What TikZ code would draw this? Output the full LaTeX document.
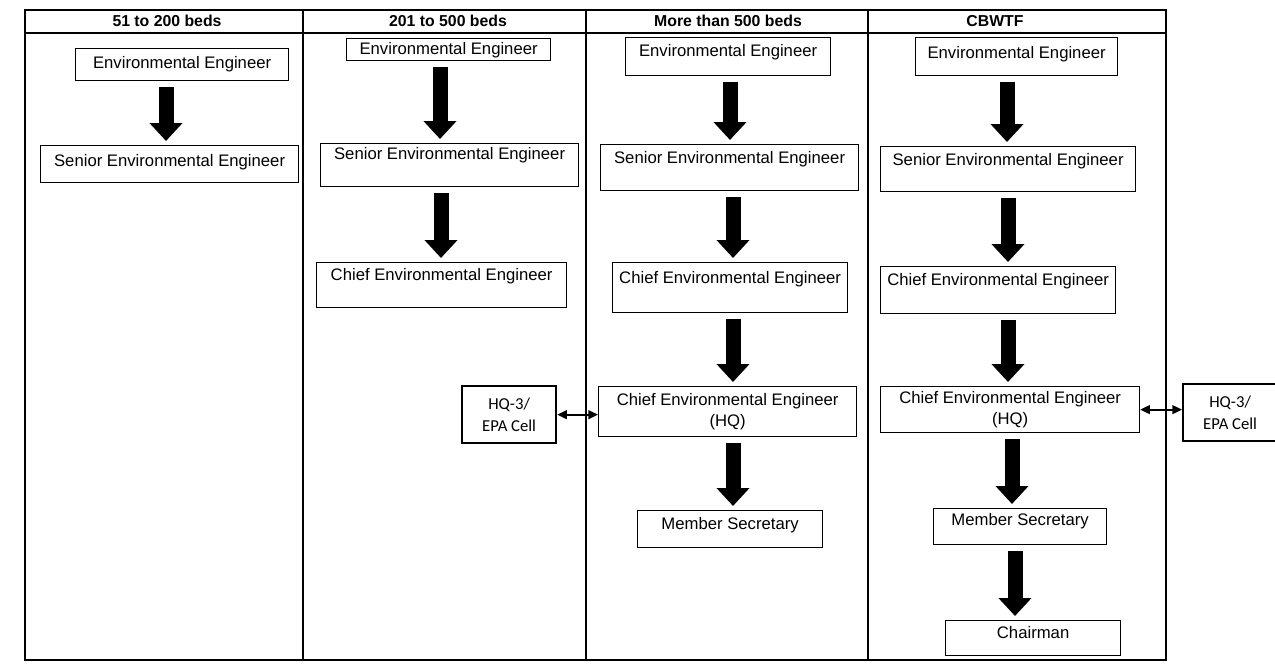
\documentclass[tikz,border=0pt]{standalone}
\usepackage{fontspec}
\setmainfont{Liberation Sans}
\newfontfamily\cellfont{Carlito}
\usetikzlibrary{arrows.meta}
\newcommand{\pxu}{0.02cm}

\begin{document}
\begin{tikzpicture}[
    x=\pxu, y=-\pxu,
    font=\fontsize{9.5}{11.5}\selectfont,
    head/.style={font=\fontsize{9}{11}\selectfont\bfseries},
    post/.style n args={3}{draw, line width=0.7pt, inner sep=0pt, anchor=north west, minimum width=#1*\pxu, text height=#2*\pxu, text depth=#3*\pxu},
    hqpost/.style 2 args={draw, line width=0.7pt, inner sep=0pt, anchor=north west, align=center, minimum width=#1*\pxu, minimum height=#2*\pxu},
    cell/.style={draw, line width=1.3pt, inner sep=0pt, anchor=north west, align=center, minimum width=1.88cm, minimum height=1.14cm, font=\cellfont\fontsize{9.5}{12.5}\selectfont},
    down/.style={line width=0.3cm, -{Triangle[width=0.64cm, length=0.36cm]}, shorten <=0.12cm, shorten >=0.08cm},
    link/.style={line width=1.1pt, {Triangle[width=5pt, length=5.5pt]}-{Triangle[width=5pt, length=5.5pt]}}
]
\useasboundingbox (0,0) rectangle (1275,664);

% Table frame
\draw[line width=0.8pt] (25,10) rectangle (1166,660);
\draw[line width=0.8pt] (25,33) -- (1166,33);
\foreach \cx in {303,586,868}
    \draw[line width=0.8pt] (\cx,10) -- (\cx,660);

% Headers
\node[head] (hd1) at (167,21) {51 to 200 beds};
\node[head] (hd2) at (448,21) {201 to 500 beds};
\node[head] (hd3) at (728,21) {More than 500 beds};
\node[head] (hd4) at (995,21) {CBWTF};

% 51 to 200 beds
\node[post={213}{20}{12}] (ee1) at (75,48) {Environmental Engineer};
\node[post={258}{21}{16}] (see1) at (40,145) {Senior Environmental Engineer};

\draw[down] (ee1.south -| 166,0) -- (see1.north -| 166,0);

% 201 to 500 beds
\node[post={204}{16}{6}] (ee2) at (346,38) {Environmental Engineer};
\node[post={258}{16}{27}] (see2) at (320,143) {Senior Environmental Engineer};
\node[post={250}{18}{27}] (cee2) at (316,262) {Chief Environmental Engineer};

\draw[down] (ee2.south -| 440,0) -- (see2.north -| 440,0);
\draw[down] (see2.south -| 441,0) -- (cee2.north -| 441,0);

% More than 500 beds
\node[post={205}{19}{19}] (ee3) at (625,37) {Environmental Engineer};
\node[post={258}{19}{27}] (see3) at (600,144) {Senior Environmental Engineer};
\node[post={235}{21}{29}] (cee3) at (612,262) {Chief Environmental Engineer};
\node[hqpost={258}{50}] (hq3) at (598,386) {Chief Environmental Engineer\\(HQ)};
\node[post={185}{19}{18}] (ms3) at (637,510) {Member Secretary};
\node[cell] (epa3) at (461,385) {HQ-3/\\EPA Cell};

\draw[down] (ee3.south -| 730,0) -- (see3.north -| 730,0);
\draw[down] (see3.south -| 733,0) -- (cee3.north -| 733,0);
\draw[down] (cee3.south -| 733,0) -- (hq3.north -| 733,0);
\draw[down] (hq3.south -| 733,0) -- (ms3.north -| 733,0);
\draw[link] (epa3) -- (epa3 -| hq3.west);

% CBWTF
\node[post={202}{21}{17}] (ee4) at (915,37) {Environmental Engineer};
\node[post={255}{19}{26}] (see4) at (880,146) {Senior Environmental Engineer};
\node[post={235}{19}{28}] (cee4) at (880,266) {Chief Environmental Engineer};
\node[hqpost={259}{46}] (hq4) at (880,386) {Chief Environmental Engineer\\(HQ)};
\node[post={173}{17}{19}] (ms4) at (933,508) {Member Secretary};
\node[post={175}{18}{17}] (ch4) at (945,620) {Chairman};
\node[cell] (epa4) at (1182,383) {HQ-3/\\EPA Cell};

\draw[down] (ee4.south -| 1007,0) -- (see4.north -| 1007,0);
\draw[down] (see4.south -| 1008,0) -- (cee4.north -| 1008,0);
\draw[down] (cee4.south -| 1008,0) -- (hq4.north -| 1008,0);
\draw[down] (hq4.south -| 1012,0) -- (ms4.north -| 1012,0);
\draw[down] (ms4.south -| 1015,0) -- (ch4.north -| 1015,0);
\draw[link] (hq4) -- (hq4 -| epa4.west);

\end{tikzpicture}
\end{document}
